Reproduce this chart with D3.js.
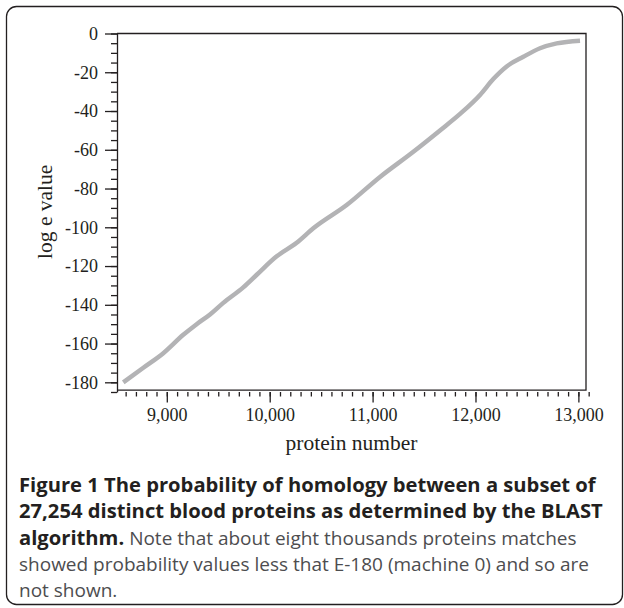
<!DOCTYPE html>
<html>
<head>
<meta charset="utf-8">
<script src="https://cdn.jsdelivr.net/npm/d3@7"></script>
<style>
  body { margin: 0; background: #fff; }
  svg { display: block; }
  .cap { font-family: "Open Sans", sans-serif; }
</style>
</head>
<body>
<svg id="chart" width="624" height="608"></svg>
<script>
// protein number vs log e value
var proteinNumber = [8577, 8772, 8966, 9160, 9290, 9420, 9549, 9743, 9874, 10068, 10262, 10424,
  10748, 11072, 11396, 11655, 11850, 12044, 12173, 12303, 12465, 12627, 12789, 13016];
var logEValue = [-180, -172.5, -165, -155.5, -150, -145, -139, -131, -124.5, -115, -108, -100.5,
  -88.5, -74, -61, -50, -41.5, -31.7, -23.5, -17, -12, -7.6, -5.1, -3.7];
var xTicks = [9000, 10000, 11000, 12000, 13000];
var yTicks = [0, -20, -40, -60, -80, -100, -120, -140, -160, -180];

var captionLines = [
  [{t: "Figure 1 The probability of homology between a subset of", b: true}],
  [{t: "27,254 distinct blood proteins as determined by the BLAST", b: true}],
  [{t: "algorithm.", b: true}, {t: " Note that about eight thousands proteins matches", b: false}],
  [{t: "showed probability values less that E-180 (machine 0) and so are", b: false}],
  [{t: "not shown.", b: false}]
];

var svg = d3.select("#chart");
var ink = "#231f20";

// frame round the figure
svg.append("rect")
  .attr("x", 6.5).attr("y", 6.5)
  .attr("width", 616).attr("height", 598)
  .attr("rx", 10).attr("ry", 10)
  .attr("fill", "none").attr("stroke", ink).attr("stroke-width", 1.3);

var x = d3.scaleLinear().domain([8516, 13074]).range([117, 586]);
var y = d3.scaleLinear().domain([0, -185]).range([33.5, 392]);

// plot box (top, right, bottom)
svg.append("path")
  .attr("d", "M" + x.range()[0] + "," + y(0) + "H" + x.range()[1] + "V" + y(-184) + "H" + x.range()[0])
  .attr("fill", "none").attr("stroke", ink).attr("stroke-width", 1.3);

// y axis, minor ticks every 5
var yMinor = d3.range(0, -186, -5);
svg.append("g")
  .attr("transform", "translate(" + x.range()[0] + ",0)")
  .call(d3.axisLeft(y).tickValues(yMinor).tickSize(6).tickSizeOuter(0).tickFormat(""))
  .call(function (g) { g.selectAll("line, path").attr("stroke", ink).attr("stroke-width", 1.3); });

var yAxis = svg.append("g")
  .attr("transform", "translate(" + x.range()[0] + ",0)")
  .call(d3.axisLeft(y).tickValues(yTicks).tickSize(12).tickPadding(7)
    .tickFormat(function (d) { return d < 0 ? "-" + Math.abs(d) : String(d); }));
yAxis.select(".domain").remove();
yAxis.selectAll("line").attr("stroke", ink).attr("stroke-width", 1.3);
yAxis.selectAll("text")
  .attr("fill", ink)
  .style("font-family", "'Liberation Serif', 'Times New Roman', serif")
  .style("font-size", "18px");

// x axis, hanging ticks, minor every 100
var xMinor = d3.range(8600, 13101, 100);
var xMin = svg.append("g")
  .attr("transform", "translate(0,392)")
  .call(d3.axisBottom(x).tickValues(xMinor).tickSize(4.5).tickFormat(""));
xMin.select(".domain").remove();
xMin.selectAll("line").attr("stroke", ink).attr("stroke-width", 1.3);

var xAxis = svg.append("g")
  .attr("transform", "translate(0,392)")
  .call(d3.axisBottom(x).tickValues(xTicks).tickSize(10.5).tickPadding(6).tickFormat(d3.format(",")));
xAxis.select(".domain").remove();
xAxis.selectAll("line").attr("stroke", ink).attr("stroke-width", 1.3);
xAxis.selectAll("text")
  .attr("fill", ink)
  .style("font-family", "'Liberation Serif', 'Times New Roman', serif")
  .style("font-size", "18px");

// axis titles
svg.append("text")
  .attr("x", (x.range()[0] + x.range()[1]) / 2).attr("y", 450)
  .attr("text-anchor", "middle").attr("fill", ink)
  .style("font-family", "'Liberation Serif', serif").style("font-size", "21.5px")
  .text("protein number");

svg.append("text")
  .attr("transform", "translate(51.5," + (y(0) + y(-184)) / 2 + ") rotate(-90)")
  .attr("text-anchor", "middle").attr("fill", ink)
  .style("font-family", "'Liberation Serif', serif").style("font-size", "21.5px")
  .text("log e value");

// the data line
var pts = proteinNumber.map(function (d, i) { return [d, logEValue[i]]; });
svg.append("path")
  .datum(pts)
  .attr("d", d3.line().curve(d3.curveMonotoneX)
    .x(function (d) { return x(d[0]); }).y(function (d) { return y(d[1]); }))
  .attr("fill", "none")
  .attr("stroke", "#b3b3b5")
  .attr("stroke-width", 4.5);

// caption: bold runs a bit larger than the plain text
captionLines.forEach(function (line, i) {
  var t = svg.append("text").attr("class", "cap")
    .attr("x", 19).attr("y", 492 + i * 26.3);
  line.forEach(function (s) {
    t.append("tspan")
      .attr("font-weight", s.b ? 700 : 400)
      .attr("font-size", s.b ? "20.2px" : "19px")
      .attr("fill", s.b ? ink : "#4d4d4f")
      .text(s.t);
  });
});
</script>
</body>
</html>
